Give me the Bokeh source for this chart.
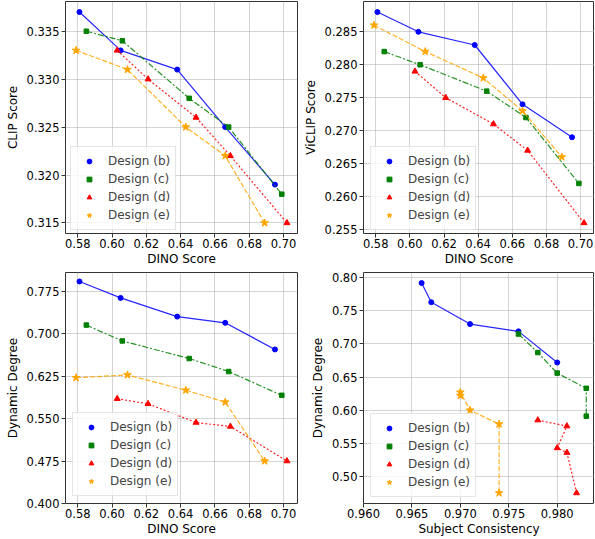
from bokeh.plotting import figure
from bokeh.layouts import gridplot
from bokeh.models import FixedTicker, PrintfTickFormatter, Range1d, Legend, LegendItem
from bokeh.embed import file_html
from bokeh.resources import INLINE

designs = ["Design (b)", "Design (c)", "Design (d)", "Design (e)"]

dino_b = [0.581, 0.605, 0.638, 0.666, 0.695]
dino_c = [0.585, 0.606, 0.645, 0.668, 0.699]
dino_d = [0.603, 0.621, 0.649, 0.669, 0.702]
dino_e = [0.579, 0.609, 0.643, 0.666, 0.689]

clip_b = [0.337, 0.333, 0.331, 0.325, 0.319]
clip_c = [0.335, 0.334, 0.328, 0.325, 0.318]
clip_d = [0.333, 0.330, 0.326, 0.322, 0.315]
clip_e = [0.333, 0.331, 0.325, 0.322, 0.315]

viclip_b = [0.288, 0.285, 0.283, 0.274, 0.269]
viclip_c = [0.282, 0.280, 0.276, 0.272, 0.262]
viclip_d = [0.279, 0.275, 0.271, 0.267, 0.256]
viclip_e = [0.286, 0.282, 0.278, 0.273, 0.266]

dyn_b = [0.792, 0.763, 0.730, 0.719, 0.672]
dyn_c = [0.715, 0.687, 0.656, 0.633, 0.591]
dyn_d = [0.585, 0.576, 0.543, 0.536, 0.475]
dyn_e = [0.622, 0.627, 0.600, 0.579, 0.475]

subj_b = [0.966, 0.967, 0.971, 0.976, 0.980]
subj_c = [0.976, 0.978, 0.980, 0.983, 0.983]
subj_d = [0.978, 0.981, 0.980, 0.981, 0.982]
subj_e = [0.970, 0.970, 0.971, 0.974, 0.974]

dino_ticks = [0.58, 0.60, 0.62, 0.64, 0.66, 0.68, 0.70]
clip_ticks = [0.315, 0.320, 0.325, 0.330, 0.335]
viclip_ticks = [0.255, 0.260, 0.265, 0.270, 0.275, 0.280, 0.285]
dyn_ticks_a = [0.400, 0.475, 0.550, 0.625, 0.700, 0.775]
dyn_ticks_b = [0.50, 0.55, 0.60, 0.65, 0.70, 0.75, 0.80]
subj_ticks = [0.960, 0.965, 0.970, 0.975, 0.980]

colors = ["#0000ff", "#008000", "#ff0000", "#ffa500"]
markers = ["circle", "square", "triangle", "star"]
msizes = [5, 4.5, 6, 8]
dashes = ["solid", "6 2 2 2", "2 2", "5 2"]

FONT = "DejaVu Sans"


def auto_range(lists, start=None, end=None):
    vals = [v for l in lists for v in l]
    lo, hi = min(vals), max(vals)
    pad = 0.05 * (hi - lo)
    return Range1d(lo - pad if start is None else start, hi + pad if end is None else end)


def panel(xs, ys, xlabel, ylabel, xticks, yticks, xfmt, yfmt, xr, yr,
          width, height, bl, br, bt, bb, legloc):
    p = figure(width=width, height=height, output_backend="svg", toolbar_location=None,
               x_range=xr, y_range=yr, min_border_left=bl, min_border_right=br,
               min_border_top=bt, min_border_bottom=bb)
    p.outline_line_color = "#333333"
    p.outline_line_width = 1
    p.background_fill_color = "white"
    p.border_fill_color = "white"
    p.grid.grid_line_color = "#b0b0b0"
    p.grid.grid_line_alpha = 0.55
    p.grid.grid_line_width = 1
    p.xaxis.ticker = FixedTicker(ticks=xticks)
    p.yaxis.ticker = FixedTicker(ticks=yticks)
    p.xaxis.formatter = PrintfTickFormatter(format=xfmt)
    p.yaxis.formatter = PrintfTickFormatter(format=yfmt)
    for ax in (p.xaxis[0], p.yaxis[0]):
        ax.axis_line_color = None
        ax.major_tick_in = 0
        ax.major_tick_out = 4
        ax.major_tick_line_color = "#333333"
        ax.minor_tick_line_color = None
        ax.major_label_text_font = FONT
        ax.major_label_text_font_size = "11.5px"
        ax.major_label_text_color = "black"
        ax.axis_label_text_font = FONT
        ax.axis_label_text_font_size = "12px"
        ax.axis_label_text_font_style = "normal"
        ax.axis_label_text_color = "black"
    p.xaxis.major_label_standoff = 1
    p.xaxis.axis_label_standoff = 1
    p.yaxis.major_label_standoff = 2
    p.yaxis.axis_label_standoff = 4
    p.xaxis.axis_label = xlabel
    p.yaxis.axis_label = ylabel
    items = []
    for i in range(4):
        p.line(xs[i], ys[i], line_color=colors[i], line_width=1.2, line_dash=dashes[i],
               line_alpha=0.85)
        r = p.scatter(xs[i], ys[i], marker=markers[i], size=msizes[i], fill_color=colors[i],
                      line_color=colors[i])
        items.append(LegendItem(label=designs[i], renderers=[r]))
    leg = Legend(items=items, location=legloc)
    leg.label_text_font = FONT
    leg.label_text_font_size = "12px"
    leg.glyph_width = 26
    leg.glyph_height = 12
    leg.label_height = 18
    leg.spacing = 0
    leg.padding = 5
    leg.margin = 0
    leg.label_standoff = 6
    leg.border_line_color = "#cccccc"
    leg.border_line_width = 1
    leg.background_fill_alpha = 0.8
    p.add_layout(leg)
    return p


dino = [dino_b, dino_c, dino_d, dino_e]
clip = [clip_b, clip_c, clip_d, clip_e]
viclip = [viclip_b, viclip_c, viclip_d, viclip_e]
dyn = [dyn_b, dyn_c, dyn_d, dyn_e]
subj = [subj_b, subj_c, subj_d, subj_e]

p1 = panel(dino, clip, "DINO Score", "CLIP Score", dino_ticks, clip_ticks, "%.2f", "%.3f",
           auto_range(dino), auto_range(clip), 300, 269, 65, 3, 1, 36, (5, 3))
p2 = panel(dino, viclip, "DINO Score", "ViCLIP Score", dino_ticks, viclip_ticks, "%.2f", "%.3f",
           auto_range(dino), auto_range(viclip), 294, 269, 61, 0, 1, 36, (7, 3))
p3 = panel(dino, dyn, "DINO Score", "Dynamic Degree", dino_ticks, dyn_ticks_a, "%.2f", "%.3f",
           auto_range(dino), auto_range(dyn, start=0.4), 300, 269, 64, 3, 3, 34, (7, 7))
p4 = panel(subj, dyn, "Subject Consistency", "Dynamic Degree", subj_ticks, dyn_ticks_b, "%.3f", "%.2f",
           auto_range(subj, start=0.96), auto_range(dyn), 294, 269, 61, 0, 3, 34, (7, 6))

grid = gridplot([[p1, p2], [p3, p4]], toolbar_location=None)
open("out.html", "w").write(file_html(grid, INLINE))
